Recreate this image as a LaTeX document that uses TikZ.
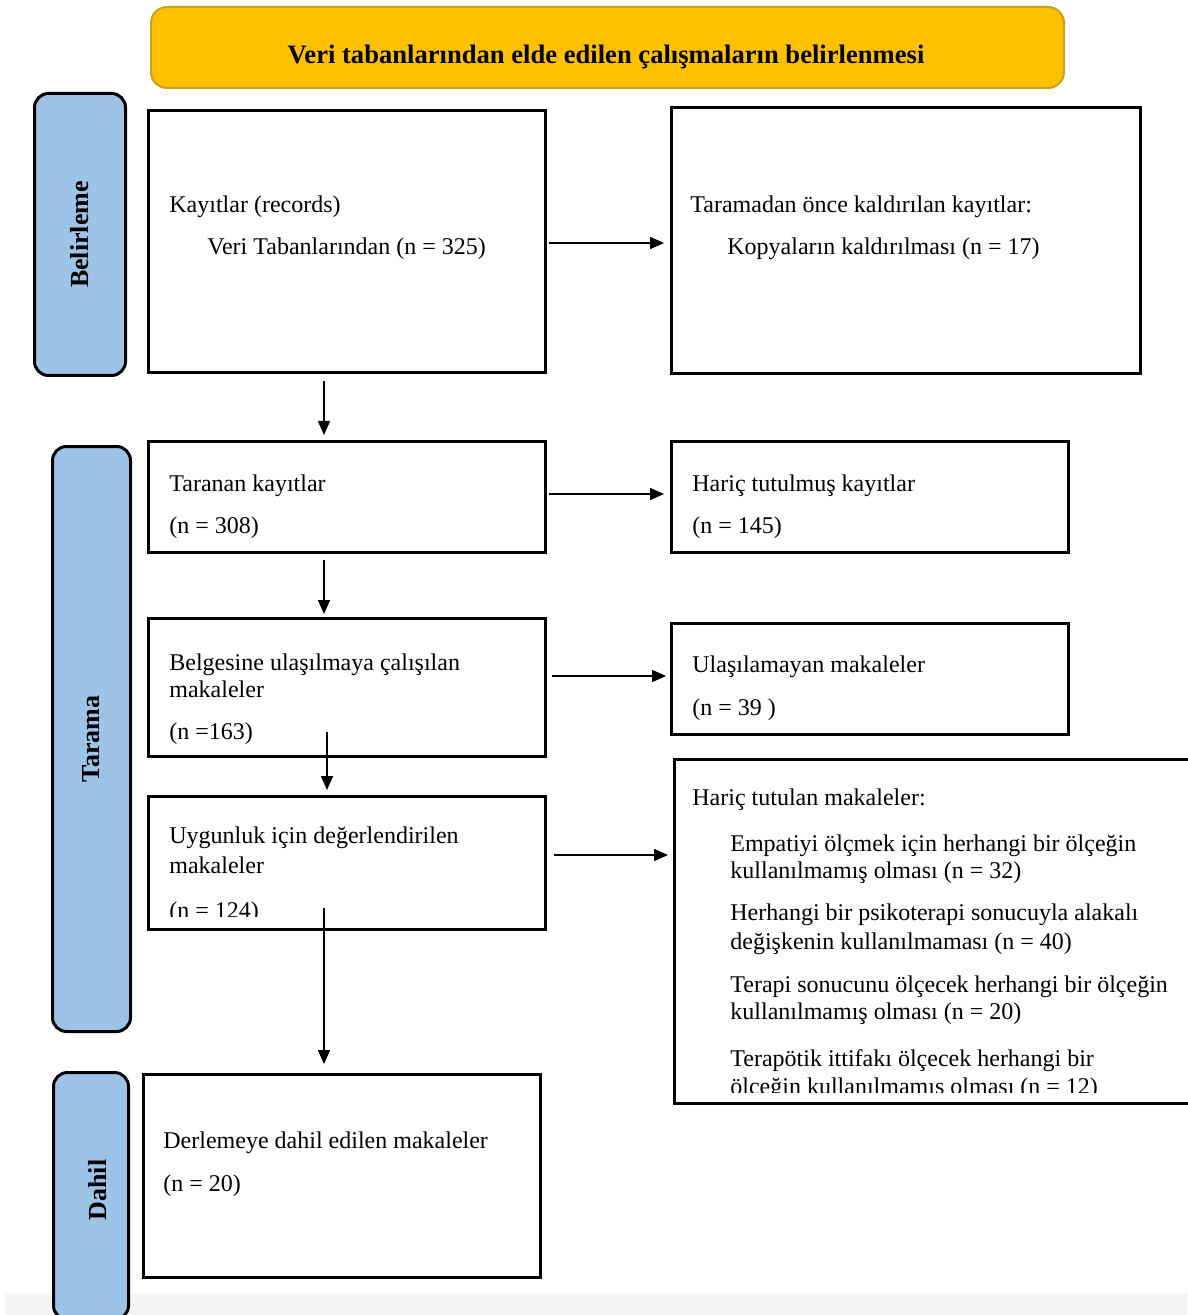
\documentclass[tikz,border=0pt]{standalone}
\usepackage{fontspec}
\setmainfont{Liberation Serif}
\usetikzlibrary{arrows.meta}
\definecolor{titlefill}{HTML}{FFC000}
\definecolor{titleline}{HTML}{C9A21C}
\definecolor{sidefill}{HTML}{9DC3E6}
\definecolor{bandgray}{HTML}{F4F4F4}
\tikzset{
  flowbox/.style={draw=black, line width=1.3pt, fill=white, inner sep=0pt, anchor=north west},
  sidebox/.style={draw=black, line width=1.5pt, fill=sidefill, rounded corners=7pt, inner sep=0pt, anchor=north west},
  titlebox/.style={draw=titleline, line width=1pt, fill=titlefill, rounded corners=8pt, inner sep=0pt, anchor=north west},
  txt/.style={anchor=base west, inner sep=0pt, font=\fontsize{12}{14}\selectfont},
  titletxt/.style={anchor=base, inner sep=0pt, font=\fontsize{13.3}{15}\selectfont\bfseries},
  sidetxt/.style={rotate=90, inner sep=0pt, font=\fontsize{13}{15}\selectfont\bfseries},
  arr/.style={line width=0.75pt, -{Triangle[length=7pt,width=6pt]}},
}
\begin{document}
\begin{tikzpicture}[x=0.5pt,y=-0.5pt]
\useasboundingbox (0,0) rectangle (1187,1315);
\fill[white] (0,0) rectangle (1187,1315);
\fill[bandgray] (5,1293) rectangle (1187,1315);

% title
\node[titlebox, minimum width=456.5pt, minimum height=40.5pt] (title) at (150,6) {};
\node[titletxt] (titletext) at (606,64) {Veri tabanlarından elde edilen çalışmaların belirlenmesi};

% side labels
\node[sidebox, minimum width=45.5pt, minimum height=141pt] (s1) at (33,92) {};
\node[sidetxt] (s1t) at (s1.center) {Belirleme};
\node[sidebox, minimum width=39pt, minimum height=292.5pt] (s2) at (51,445) {};
\node[sidetxt] (s2t) at (s2.center) {Tarama};
\node[sidebox, minimum width=37.5pt, minimum height=123.5pt] (s3) at (52,1071) {};
\node[sidetxt] (s3t) at (98,1190) {Dahil};

% boxes
\node[flowbox, minimum width=198.5pt, minimum height=131pt] (b1) at (147,109) {};
\node[flowbox, minimum width=234.5pt, minimum height=133pt] (b2) at (670,106) {};
\node[flowbox, minimum width=198.5pt, minimum height=55.5pt] (b3) at (147,440) {};
\node[flowbox, minimum width=198.5pt, minimum height=55.5pt] (b4) at (670,440) {};
\node[flowbox, minimum width=198.5pt, minimum height=69pt] (b5) at (147,617) {};
\node[flowbox, minimum width=198.5pt, minimum height=55.5pt] (b6) at (670,622) {};
\node[flowbox, minimum width=198.5pt, minimum height=66.5pt] (b7) at (147,795) {};
\node[flowbox, minimum width=263.5pt, minimum height=172pt] (b8) at (673,758) {};
\node[flowbox, minimum width=198.5pt, minimum height=101.5pt] (b9) at (142,1073) {};

% texts
\node[txt] (t1a) at (169,213) {Kayıtlar (records)};
\node[txt] (t1b) at (207,255) {Veri Tabanlarından (n = 325)};
\node[txt] (t2a) at (690,213) {Taramadan önce kaldırılan kayıtlar:};
\node[txt] (t2b) at (727,255) {Kopyaların kaldırılması (n = 17)};
\node[txt] (t3a) at (169,491) {Taranan kayıtlar};
\node[txt] (t3b) at (169,533) {(n = 308)};
\node[txt] (t4a) at (692,491) {Hariç tutulmuş kayıtlar};
\node[txt] (t4b) at (692,533) {(n = 145)};
\node[txt] (t5a) at (169,670) {Belgesine ulaşılmaya çalışılan};
\node[txt] (t5b) at (169,697) {makaleler};
\node[txt] (t5c) at (169,739) {(n =163)};
\node[txt] (t6a) at (692,672) {Ulaşılamayan makaleler};
\node[txt] (t6b) at (692,715) {(n = 39 )};
\node[txt] (t7a) at (169,843) {Uygunluk için değerlendirilen};
\node[txt] (t7b) at (169,873) {makaleler};
\begin{scope}
\clip (147,795) rectangle (544,916);
\node[txt] (t7c) at (169,918) {(n = 124)};
\end{scope}
\node[txt] (t8a) at (692,805) {Hariç tutulan makaleler:};
\node[txt] (t8b) at (730,851) {Empatiyi ölçmek için herhangi bir ölçeğin};
\node[txt] (t8c) at (730,878) {kullanılmamış olması (n = 32)};
\node[txt] (t8d) at (730,920) {Herhangi bir psikoterapi sonucuyla alakalı};
\node[txt] (t8e) at (730,949) {değişkenin kullanılmaması (n = 40)};
\node[txt] (t8f) at (730,992) {Terapi sonucunu ölçecek herhangi bir ölçeğin};
\node[txt] (t8g) at (730,1019) {kullanılmamış olması (n = 20)};
\node[txt] (t8h) at (730,1066) {Terapötik ittifakı ölçecek herhangi bir};
\begin{scope}
\clip (673,758) rectangle (1187,1092);
\node[txt] (t8i) at (730,1094) {ölçeğin kullanılmamış olması (n = 12)};
\end{scope}
\node[txt] (t9a) at (163,1148) {Derlemeye dahil edilen makaleler};
\node[txt] (t9b) at (163,1191) {(n = 20)};

% connector reference coordinates
\coordinate (y243) at (0,243);
\coordinate (y494) at (0,494);
\coordinate (y676) at (0,676);
\coordinate (y855) at (0,855);
\coordinate (x324) at (324,0);
\coordinate (x327) at (327,0);
\coordinate (s57) at (327,732);
\coordinate (s79) at (324,908);

% connectors
\draw[arr, shorten <=1pt, shorten >=3pt] (b1.east |- y243) -- (b2.west |- y243);
\draw[arr, shorten <=1pt, shorten >=3pt] (b3.east |- y494) -- (b4.west |- y494);
\draw[arr, shorten <=2.5pt, shorten >=2pt] (b5.east |- y676) -- (b6.west |- y676);
\draw[arr, shorten <=3.5pt, shorten >=2.5pt] (b7.east |- y855) -- (b8.west |- y855);
\draw[arr, shorten <=3.5pt, shorten >=2.5pt] (b1.south -| x324) -- (b3.north -| x324);
\draw[arr, shorten <=3pt, shorten >=1.5pt] (b3.south -| x324) -- (b5.north -| x324);
\draw[arr, shorten >=2.5pt] (s57) -- (b7.north -| x327);
\draw[arr, shorten >=4.5pt] (s79) -- (b9.north -| x324);
\end{tikzpicture}
\end{document}
